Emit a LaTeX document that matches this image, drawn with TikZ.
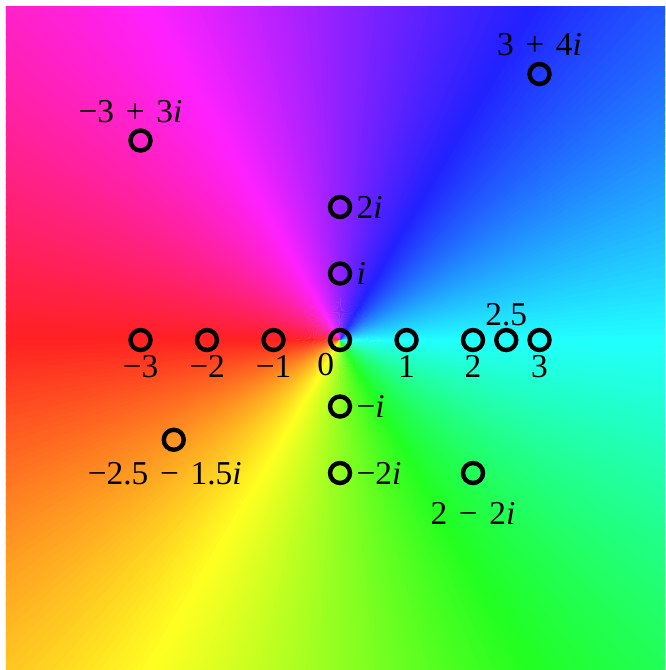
\documentclass[tikz,border=0pt]{standalone}
\usepackage{fontspec}
\setmainfont{Liberation Serif}
\usepackage{xcolor}
\usetikzlibrary{positioning}
\newcommand{\opsp}[1]{\hspace{0.35em}#1\hspace{0.35em}}

\begin{document}
\begin{tikzpicture}[
    x=1.33cm, y=1.33cm,
    point/.style={circle, draw, line width=2.5pt, minimum size=0.4cm, inner sep=0pt},
    value/.style={inner sep=0pt, font=\fontsize{19}{21}\selectfont}
]
\useasboundingbox (-5.113,-4.962) rectangle (4.887,5.113);

% hue of the argument, red on the negative axis
\begin{scope}
\clip (-5.023,-4.962) rectangle (4.887,5.008);
\foreach \a in {0,...,359} {
    \pgfmathsetmacro{\hue}{mod(\a+180.5,360)}
    \definecolor{wedge}{Hsb}{\hue,0.87,1}
    \fill [wedge] (0,0) -- (\a:8) -- (\a+1.6:8) -- cycle;
}
\end{scope}

\node [point] (z0) at (0,0) {};
\node [point] (z1) at (1,0) {};
\node [point] (z2) at (2,0) {};
\node [point] (z25) at (2.5,0) {};
\node [point] (z3) at (3,0) {};
\node [point] (zm1) at (-1,0) {};
\node [point] (zm2) at (-2,0) {};
\node [point] (zm3) at (-3,0) {};
\node [point] (zi) at (0,1) {};
\node [point] (z2i) at (0,2) {};
\node [point] (zmi) at (0,-1) {};
\node [point] (zm2i) at (0,-2) {};
\node [point] (z34) at (3,4) {};
\node [point] (zm33) at (-3,3) {};
\node [point] (zm25m15) at (-2.5,-1.5) {};
\node [point] (z2m2) at (2,-2) {};

\node [value, below left=0.8mm and -0.6mm of z0] {0};
\node [value, below=0.5mm of z1] {1};
\node [value, below=0.5mm of z2] {2};
\node [value, below=0.5mm of z3] {3};
\node [value, above=0.4mm of z25] {2.5};
\node [value, below=0.5mm of zm1] {−1};
\node [value, below=0.5mm of zm2] {−2};
\node [value, below=0.5mm of zm3] {−3};
\node [value, right=0.8mm of zi] {\textit{i}};
\node [value, right=0.8mm of z2i] {2\textit{i}};
\node [value, right=0.8mm of zmi] {−\textit{i}};
\node [value, right=0.8mm of zm2i] {−2\textit{i}};
\node [value, above=1.1mm of z34] {3\opsp{+}4\textit{i}};
\node [value, above=1mm of zm33, xshift=-2mm] {−3\opsp{+}3\textit{i}};
\node [value, below=2mm of zm25m15, xshift=-1.8mm] {−2.5\opsp{−}1.5\textit{i}};
\node [value, below=3.3mm of z2m2] {2\opsp{−}2\textit{i}};

\end{tikzpicture}
\end{document}
